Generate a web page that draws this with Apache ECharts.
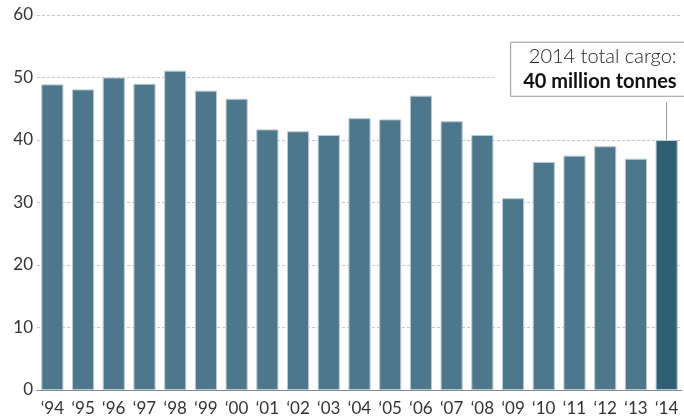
<!DOCTYPE html>
<html><head><meta charset="utf-8">
<script src="https://cdn.jsdelivr.net/npm/echarts@6/dist/echarts.min.js"></script>
<style>html,body{margin:0;padding:0;background:#fff}#c{width:684px;height:419px}</style>
</head><body><div id="c"></div>
<script>
const categories = ["\u201894","\u201895","\u201896","\u201897","\u201898","\u201899","\u201800","\u201801","\u201802","\u201803","\u201804","\u201805","\u201806","\u201807","\u201808","\u201809","\u201810","\u201811","\u201812","\u201813","\u201814"];
const cargo = [48.9,48.1,50.0,49.0,51.1,47.9,46.6,41.7,41.4,40.8,43.5,43.3,47.1,43.0,40.8,30.7,36.5,37.5,39.0,37.0,40.0];
const yTicks = [0,10,20,30,40,50,60];
const noteLine1 = "2014 total cargo:";
const noteLine2 = "40 million tonnes";
const noteTop = 47.0;

const FONT = "Lato, 'Open Sans', sans-serif";
const chart = echarts.init(document.getElementById('c'));
const last = cargo.length - 1;
chart.setOption({
  animation: false,
  grid: {left: 37, right: 2, top: 15, bottom: 29, containLabel: false},
  xAxis: {
    type: 'category', data: categories,
    axisLine: {show: true, lineStyle: {color: '#888', width: 1}},
    axisTick: {show: false},
    axisLabel: {color: '#333', fontSize: 17, fontFamily: FONT, margin: 10, interval: 0}
  },
  yAxis: {
    type: 'value', min: yTicks[0], max: yTicks[yTicks.length - 1], interval: yTicks[1] - yTicks[0],
    axisLine: {show: false}, axisTick: {show: false},
    axisLabel: {color: '#333', fontSize: 17, fontFamily: FONT, margin: 4},
    splitLine: {lineStyle: {color: '#c8c8c8', type: [3, 2], width: 1}}
  },
  series: [{
    type: 'bar', barCategoryGap: '28%',
    data: cargo.map((v, i) => ({value: v, itemStyle: {color: i === last ? '#2e5f75' : '#4f778b'}})),
    itemStyle: {borderColor: '#b9cad3', borderWidth: 1},
    markLine: {
      silent: true, symbol: 'none', label: {show: false},
      lineStyle: {color: '#999', type: 'solid', width: 1},
      data: [[{coord: [last, cargo[last]]}, {coord: [last, noteTop]}]]
    }
  }]
});
const pTop = chart.convertToPixel({seriesIndex: 0}, [last, noteTop]);
const cx = pTop[0], by = pTop[1];
chart.setOption({
  graphic: [
    {type: 'rect', shape: {x: cx - 172, y: by - 70, width: 200, height: 76}, style: {fill: '#fff'}, z: 10},
    {type: 'rect', shape: {x: cx - 156, y: by - 54, width: 200, height: 54}, style: {fill: '#fff', stroke: '#999', lineWidth: 1}, z: 11},
    {type: 'text', x: cx + 10, y: by - 40, style: {text: noteLine1, fill: '#222', font: '300 20px ' + FONT, align: 'right', verticalAlign: 'middle'}, z: 12},
    {type: 'text', x: cx + 10, y: by - 15, style: {text: noteLine2, fill: '#111', font: 'bold 20px ' + FONT, align: 'right', verticalAlign: 'middle'}, z: 12}
  ]
});
</script></body></html>
